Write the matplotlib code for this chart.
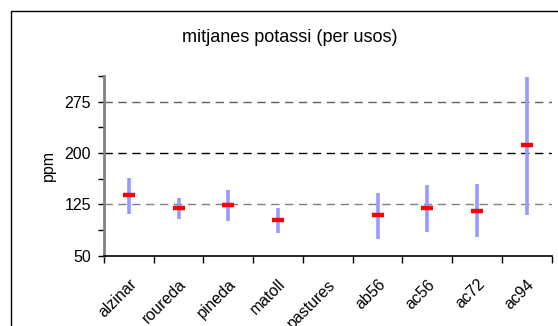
import matplotlib
matplotlib.use("Agg")
import matplotlib.pyplot as plt
from matplotlib.patches import Rectangle
from matplotlib.transforms import ScaledTranslation
import numpy as np

plt.rcParams.update({"font.family": ["Liberation Sans", "DejaVu Sans"]})

usos = ["alzinar", "roureda", "pineda", "matoll", "pastures", "ab56", "ac56", "ac72", "ac94"]
mitjana = [138, 119, 124, 102, np.nan, 109, 119, 116, 211]
maxim = [164, 134, 146, 120, np.nan, 142, 153, 154, 311]
minim = [111, 104, 100, 83, np.nan, 75, 85, 77, 110]

BLUE, RED = "#9999ff", "#ff0000"

fig = plt.figure(figsize=(5.58, 3.26), dpi=100)
ax = fig.add_axes([0.1864, 0.2156, 0.8023, 0.5514])
fig.patches.append(Rectangle((10.5 / 558, -0.1), 1.2, 1 - 10.7 / 326 + 0.1, transform=fig.transFigure,
                             fill=False, ec="black", lw=1.0))

x = np.arange(len(usos))
ax.vlines(x, minim, maxim, color=BLUE, lw=2.6, zorder=3)
ax.hlines(mitjana, x - 0.12, x + 0.12, color=RED, lw=3.2, zorder=4)

ax.set_xlim(-0.5, len(usos) - 0.5)
ax.set_ylim(50, 312.5)
ax.set_yticks([50, 125, 200, 275])
ax.set_yticks([87.5, 162.5, 237.5, 312.5], minor=True)
ax.set_xticks(np.arange(len(usos) + 1) - 0.5)
ax.set_xticklabels([])
ax.set_xticks(x, minor=True)
ax.set_xticklabels(usos, minor=True, rotation=45, ha="right", rotation_mode="anchor", fontsize=11.5)
shift = ScaledTranslation(-8 / 100, 0, fig.dpi_scale_trans)
for lab in ax.get_xticklabels(minor=True):
    lab.set_transform(lab.get_transform() + shift)
ax.tick_params(axis="x", which="minor", length=0, pad=15)
ax.tick_params(axis="x", which="major", length=5, width=1, direction="out")
ax.tick_params(axis="y", which="both", length=4, width=1, direction="out", pad=5.5, labelsize=11.5)

for v, c in [(125, "#808080"), (200, "black"), (275, "#606060")]:
    ax.axhline(v, color=c, lw=1, dashes=(6, 4), zorder=1)

for s in ["top", "right"]:
    ax.spines[s].set_visible(False)
ax.spines["left"].set_color("#808080")
ax.spines["left"].set_linewidth(2)
ax.spines["bottom"].set_linewidth(1.2)

ax.set_ylabel("ppm", fontsize=11.5, labelpad=6)
fig.text(0.52, 1 - 37 / 326, "mitjanes potassi (per usos)", ha="center", va="center", fontsize=13)

fig.savefig("out.png", dpi=100)
